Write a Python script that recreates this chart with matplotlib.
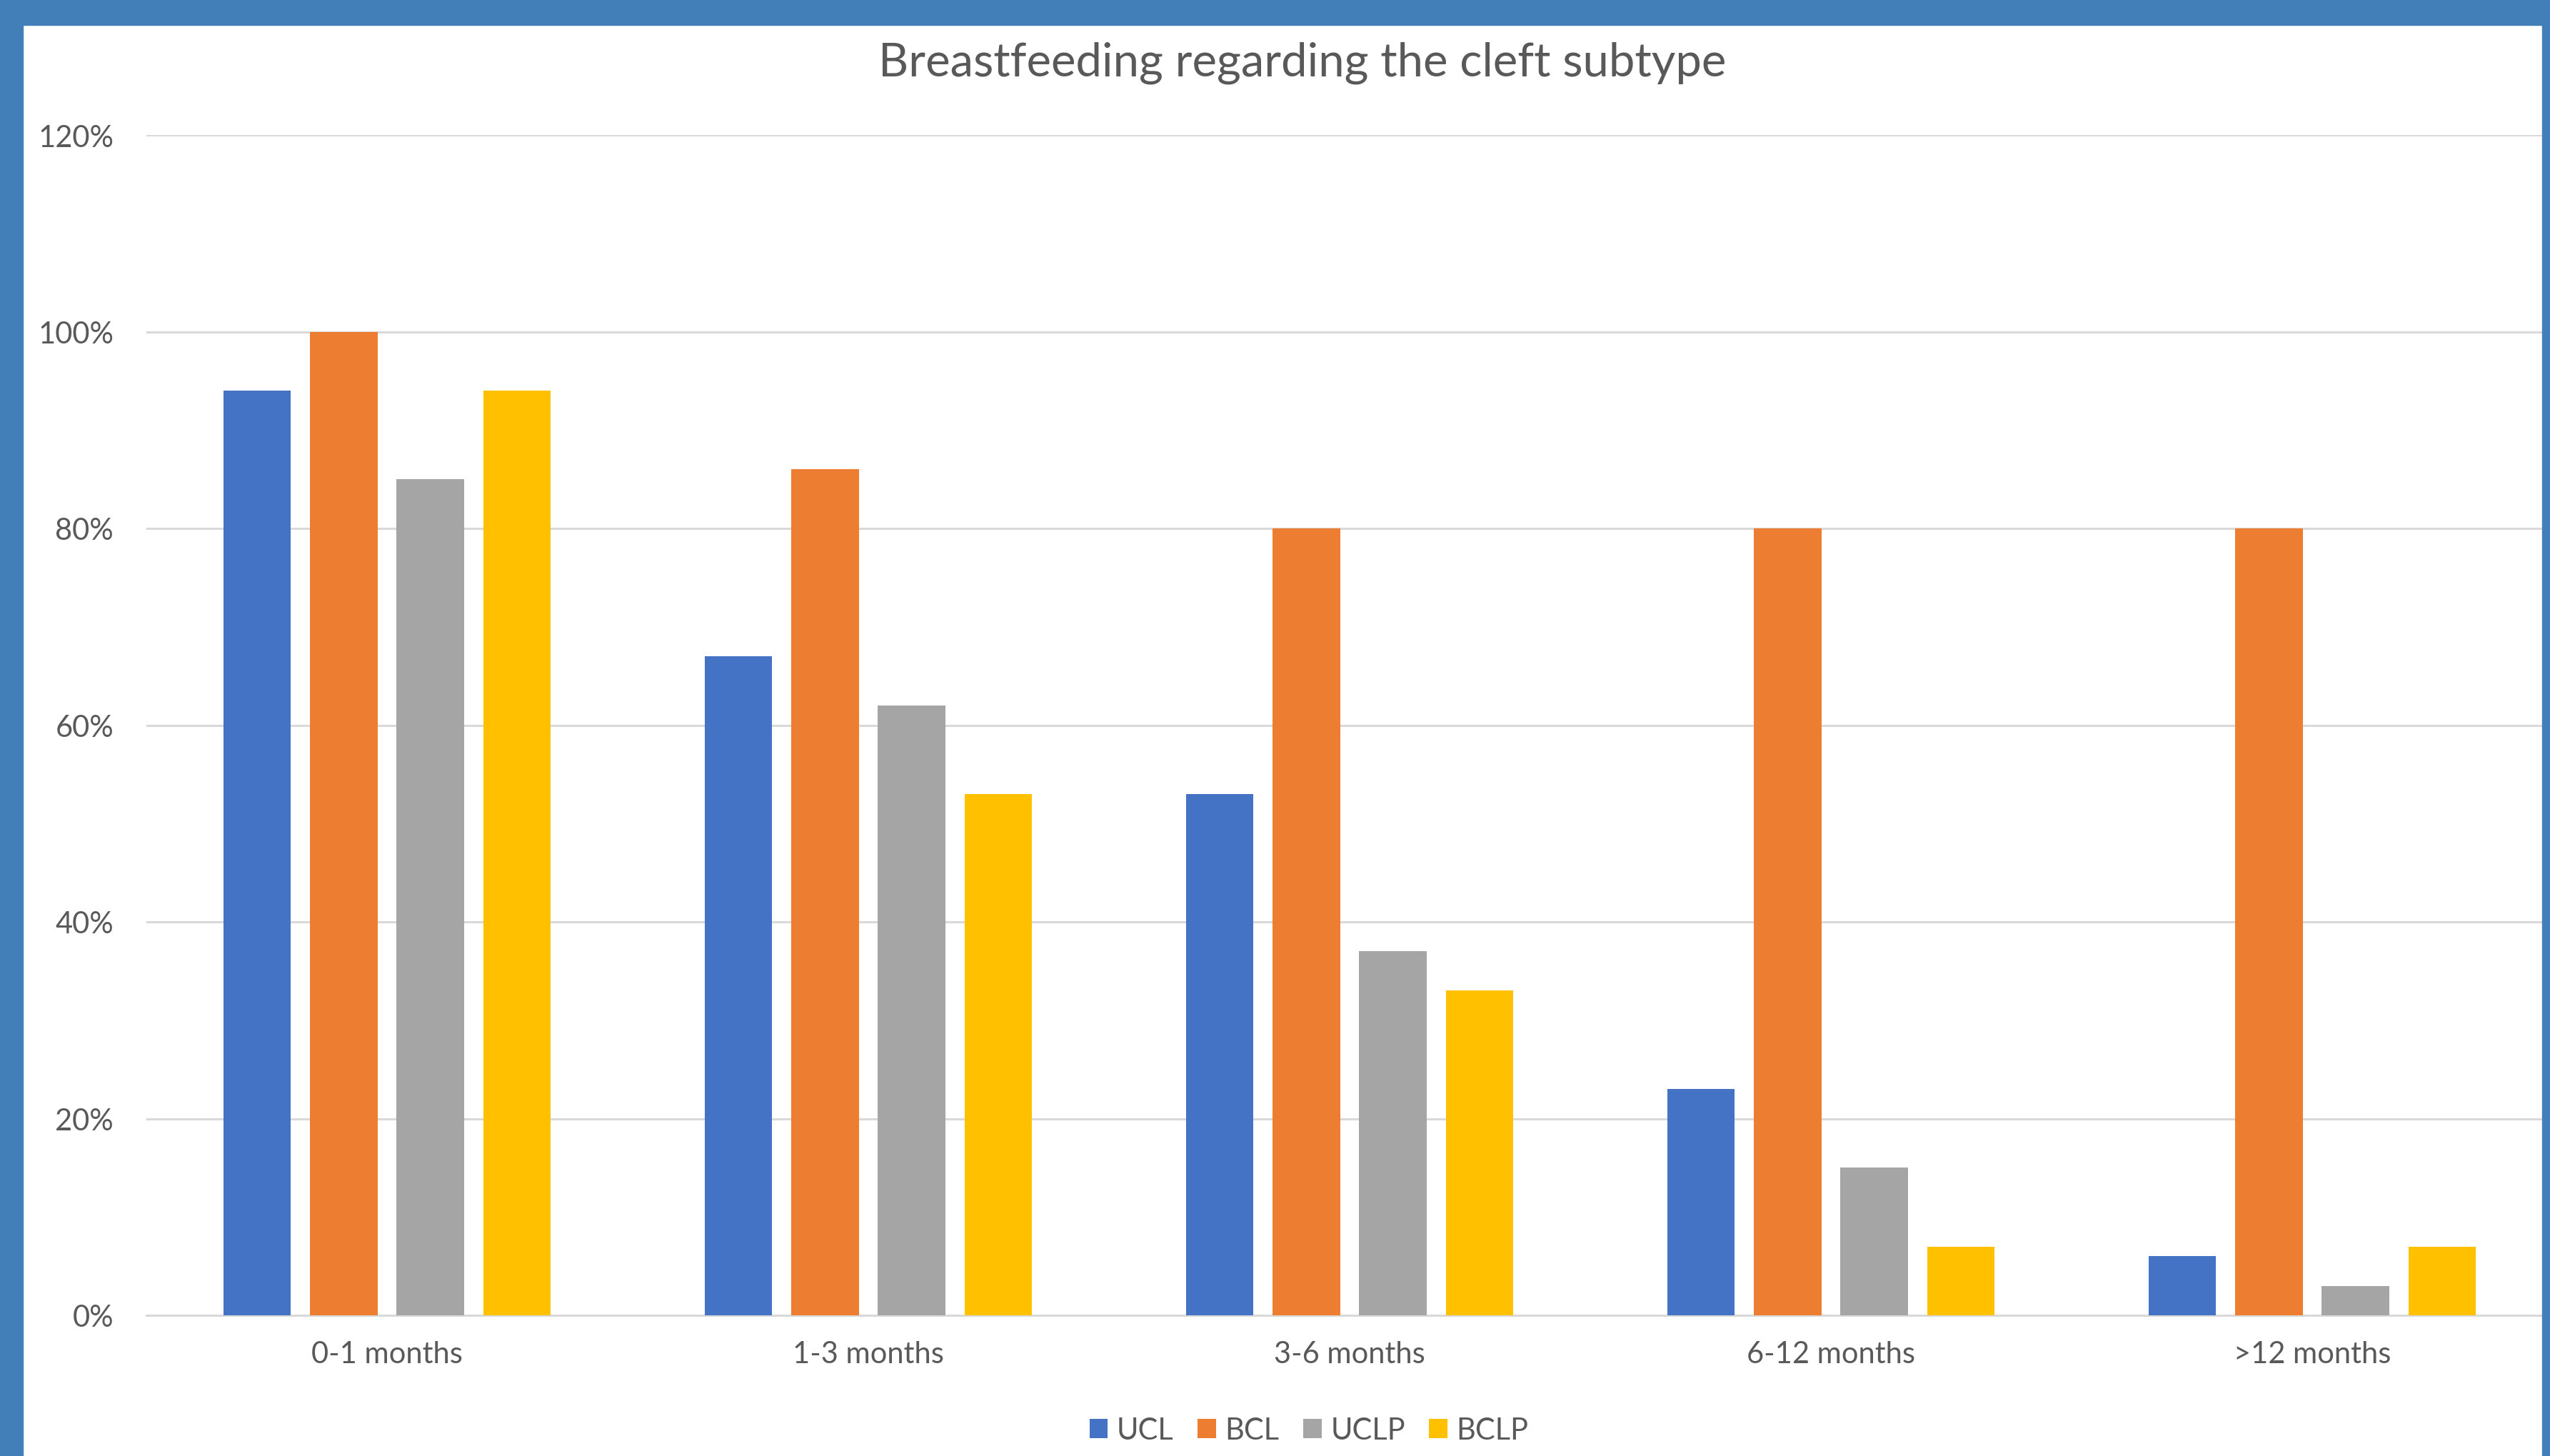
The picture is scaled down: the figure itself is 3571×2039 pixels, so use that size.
import matplotlib
matplotlib.use("Agg")
import matplotlib.pyplot as plt
import numpy as np
from matplotlib.patches import Rectangle
from matplotlib.ticker import PercentFormatter

categories = ["0-1 months", "1-3 months", "3-6 months", "6-12 months", ">12 months"]
series_names = ["UCL", "BCL", "UCLP", "BCLP"]
ucl = [94, 67, 53, 23, 6]
bcl = [100, 86, 80, 80, 80]
uclp = [85, 62, 37, 15, 3]
bclp = [94, 53, 33, 7, 7]
yticks = [0, 20, 40, 60, 80, 100, 120]

colors = ["#4472C4", "#ED7D31", "#A5A5A5", "#FFC000"]
text_color = "#595959"
border_color = "#427FB9"
grid_color = "#D9D9D9"
font = "Lato"

W, H = 3571, 2040
dpi = 100
fig = plt.figure(figsize=(W / dpi, H / dpi), dpi=dpi)
fig.patch.set_facecolor("white")

ax_left, ax_right = 205, 3575
ax_top, ax_bottom = 190, 1843
ax = fig.add_axes([ax_left / W, 1 - ax_bottom / H, (ax_right - ax_left) / W, (ax_bottom - ax_top) / H])

x = np.arange(len(categories))
bw = 0.14
pitch = 0.18
data = [ucl, bcl, uclp, bclp]
for i, (name, vals, c) in enumerate(zip(series_names, data, colors)):
    ax.bar(x + (i - 1.5) * pitch, vals, width=bw, color=c, label=name, zorder=3)

ax.set_xlim(-0.5, len(categories) - 0.5)
ax.set_ylim(0, 120)
ax.set_yticks(yticks)
ax.yaxis.set_major_formatter(PercentFormatter(decimals=0))
ax.set_xticks(x)
ax.set_xticklabels(categories)
ax.grid(axis="y", color=grid_color, linewidth=2.2, zorder=0)
ax.set_axisbelow(True)
for s in ["top", "right", "left"]:
    ax.spines[s].set_visible(False)
ax.spines["bottom"].set_color(grid_color)
ax.spines["bottom"].set_linewidth(2.2)
ax.tick_params(axis="both", length=0, labelsize=30, labelcolor=text_color)
ax.tick_params(axis="y", pad=33)
ax.tick_params(axis="x", pad=25)
for lab in ax.get_xticklabels() + ax.get_yticklabels():
    lab.set_fontfamily(font)

fig.text(1824 / W, 1 - 88 / H, "Breastfeeding regarding the cleft subtype", ha="center", va="center",
         fontsize=47, color=text_color, fontfamily=font)

leg = fig.legend(loc="center", bbox_to_anchor=(1833 / W, 1 - 2004 / H), ncol=4, frameon=False,
                 handlelength=0.62, handleheight=0.62, handletextpad=0.3, columnspacing=0.8,
                 prop={"family": font, "size": 30})
for t in leg.get_texts():
    t.set_color(text_color)

# blue frame
fig.patches.append(Rectangle((0, 0), 32 / W, 1, transform=fig.transFigure, color=border_color, zorder=10))
fig.patches.append(Rectangle((0, 1 - 36 / H), 1, 36 / H, transform=fig.transFigure, color=border_color, zorder=10))
fig.patches.append(Rectangle((1 - 11 / W, 0), 11 / W, 1, transform=fig.transFigure, color=border_color, zorder=10))

fig.savefig("out.png", dpi=dpi)
